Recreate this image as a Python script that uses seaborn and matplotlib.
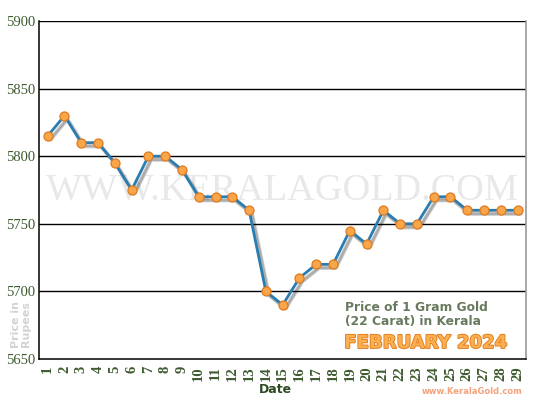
import matplotlib
matplotlib.use("Agg")
import matplotlib.pyplot as plt
import matplotlib.patheffects as pe
import seaborn as sns
import pandas as pd

days = list(range(1, 30))
prices = [5815, 5830, 5810, 5810, 5795, 5775, 5800, 5800, 5790, 5770,
          5770, 5770, 5760, 5700, 5690, 5710, 5720, 5720, 5745, 5735,
          5760, 5750, 5750, 5770, 5770, 5760, 5760, 5760, 5760]
y_ticks = [5650, 5700, 5750, 5800, 5850, 5900]

df = pd.DataFrame({"Date": days, "Price": prices})

sns.set_style("white")
fig = plt.figure(figsize=(5.5, 4), dpi=100)
ax = fig.add_axes([0.0715, 0.1025, 0.8849, 0.845])

# watermark
ax.text(0.5, 0.5, "WWW.KERALAGOLD.COM", transform=ax.transAxes, ha="center", va="center",
        fontsize=27.5, family="Liberation Serif", color="#e8e8e8", zorder=0)

for yv in y_ticks[1:]:
    ax.axhline(yv, color="black", lw=1.0, zorder=1)

# line with soft shadow
sns.lineplot(data=df, x="Date", y="Price", ax=ax, color="#2a7db0", lw=2.0, zorder=3,
             path_effects=[pe.SimpleLineShadow(offset=(2, -2.5), shadow_color="black", alpha=0.15,
                                               linewidth=3.2),
                           pe.SimpleLineShadow(offset=(2, -2.5), shadow_color="black", alpha=0.2),
                           pe.Normal()])
# markers
sns.lineplot(data=df, x="Date", y="Price", ax=ax, color="#2a7db0", lw=0, zorder=4,
             marker="o", markersize=6.5, markerfacecolor="#f9a64a",
             markeredgecolor="#e07a1e", markeredgewidth=0.9)

ax.set_xlim(0.5, 29.5)
ax.set_ylim(5650, 5900)
ax.set_yticks(y_ticks)
ax.set_yticklabels([str(v) for v in y_ticks], family="Liberation Serif", fontsize=10.5, color="#3d5a2e")
ax.set_xticks(days)
ax.set_xticklabels([str(d) for d in days], rotation=90, family="Liberation Serif",
                   fontweight="bold", fontsize=10.5, color="#3d5a2e")
ax.set_xticks([d + 0.5 for d in days[:-1]] + [0.5], minor=True)
ax.tick_params(axis="x", which="major", length=0, pad=5)
ax.tick_params(axis="x", which="minor", length=4, width=1, color="black", direction="out")
ax.tick_params(axis="y", length=0, pad=3)
ax.set_xlabel("")
ax.set_ylabel("")

for s in ["left", "bottom"]:
    ax.spines[s].set_color("black")
    ax.spines[s].set_linewidth(1.1)
ax.spines["top"].set_visible(False)
ax.spines["right"].set_color("#999999")
ax.spines["right"].set_linewidth(1.2)

fig.text(0.5, 0.01, "Date", ha="center", va="bottom", fontsize=9, fontweight="bold",
         color="#2f4a22", family="DejaVu Sans")
fig.text(0.038, 0.19, "Price in\nRupees", rotation=90, ha="center", va="center", fontsize=8,
         fontweight="bold", color="#d3d3d3", family="DejaVu Sans", linespacing=1.0)

fig.text(0.627, 0.248, "Price of 1 Gram Gold\n(22 Carat) in Kerala", ha="left", va="top",
         fontsize=8.8, fontweight="bold", color="#687a5e", family="DejaVu Sans", linespacing=1.1)
fig.text(0.626, 0.165, "FEBRUARY 2024", ha="left", va="top", fontsize=13.0, fontweight="bold",
         color="#f9b050", family="DejaVu Sans",
         path_effects=[pe.withStroke(linewidth=1.3, foreground="#e57a1c")])
fig.text(0.95, 0.01, "www.KeralaGold.com", ha="right", va="bottom", fontsize=6.0,
         fontweight="bold", color="#f3a27a", family="DejaVu Sans")

fig.savefig("out.png", dpi=100, facecolor="white")
